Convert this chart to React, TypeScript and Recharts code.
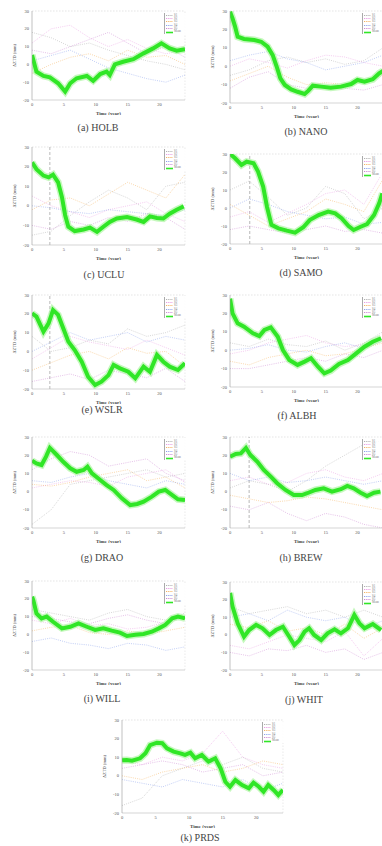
import React from 'react';
import { LineChart, Line, XAxis, YAxis, ReferenceLine } from 'recharts';

// ---------- shared axes / tick labels ----------
const X_TICKS = [0, 5, 10, 15, 20];
const Y_TICKS = [-20, -10, 0, 10, 20, 30];
const FAINT_T = [0, 3, 6, 9, 12, 15, 18, 21, 24];
const FAINT_NAMES = ['S1', 'S2', 'S3', 'S4', 'S5'];
const MAIN_NAME = 'Mean';

// ---------- (a) HOLB ----------
const holbT = [0, 0.7, 1.8, 2.8, 4.1, 5.2, 6, 7, 8.6, 9.6, 10.7, 11.7, 12.2, 13, 14.3, 15.9, 17.5, 19, 20.3, 21.6, 22.7, 24];
const holbZ = [5.3, -4.1, -6.5, -7.3, -10.6, -15.3, -10.6, -7.8, -6.5, -9.2, -5.4, -4.1, -6, 0, 1.5, 2.9, 6.2, 9, 11.8, 9, 7.7, 8.5];
const holbF1 = [18, 15, 10, 12, 8, 5, 2, 0, -3];
const holbF2 = [12, 20, 22, 15, 10, 14, 9, 6, 8];
const holbF3 = [-5, 0, 4, 6, 2, 8, 4, 5, 0];
const holbF4 = [2, 5, 8, 3, -2, -5, -8, -10, -6];
const holbF5 = [8, 6, 10, 14, 18, 12, 6, 10, 4];

// ---------- (b) NANO ----------
const nanoT = [0, 0.4, 0.8, 1.2, 2.2, 3.8, 4.9, 5.9, 6.7, 7.4, 7.9, 8.6, 9.6, 10.6, 11.7, 12.3, 13, 14.3, 15.8, 17.4, 19, 20, 21.1, 22.4, 23.4, 24];
const nanoZ = [29.6, 26, 21.5, 16, 14.8, 14.2, 13.3, 10.6, 6, -1.1, -6.6, -10.2, -12.6, -13.9, -15.1, -13.3, -10.6, -11.1, -11.7, -11.1, -9.7, -7.5, -8.4, -7.1, -3.9, -2.5];
const nanoF1 = [-5, -2, 3, 5, 2, 4, 1, 3, 10];
const nanoF2 = [0, 4, 2, -1, 3, 6, 5, 2, 0];
const nanoF3 = [-8, -4, 0, -6, -10, -9, -10, -8, -5];
const nanoF4 = [3, 6, 8, 4, 2, -2, 0, 2, 6];
const nanoF5 = [-12, -6, -3, -10, -12, -11, -12, -13, -10];

// ---------- (c) UCLU ----------
const ucluT = [0, 0.7, 1.8, 2.6, 3.3, 4.1, 4.7, 5.2, 5.7, 6.7, 8.1, 9.1, 10.2, 11.2, 12.2, 13.3, 14.9, 16.4, 17.5, 18.5, 19.6, 20.6, 21.6, 22.7, 23.8];
const ucluZ = [22.1, 18.7, 15.4, 14.5, 15.9, 12, 4.4, -4.8, -10.7, -12.9, -12.1, -11.1, -13.3, -10.7, -8.2, -6.5, -5.7, -7, -8.2, -5.4, -6.2, -6.5, -4, -2, -0.3];
const ucluF1 = [-15, -13, -5, 2, 8, 4, -2, 10, 12];
const ucluF2 = [5, 0, -3, -6, -2, 0, 2, -4, -8];
const ucluF3 = [-2, 3, 4, 0, 6, 12, 8, 4, 16];
const ucluF4 = [0, -1, -3, -4, -2, -3, -4, -5, -2];
const ucluF5 = [-10, -12, -8, -10, -6, -8, -4, -6, -12];

// ---------- (d) SAMO ----------
const samoT = [0, 0.8, 1.8, 2.6, 3.7, 4.4, 5.2, 5.8, 6.5, 7.6, 8.9, 10.2, 11.5, 12.5, 13.9, 15.4, 16.5, 17.5, 18.6, 19.4, 20.5, 21.5, 22.6, 23.4, 23.9];
const samoZ = [30, 27.6, 23.9, 25.7, 24.8, 20.2, 11.9, 0.7, -9.4, -11.3, -12.6, -13.7, -10.7, -6.7, -3.9, -2, -3, -5.7, -10, -12.2, -10.4, -8.9, -3.9, 2.6, 8.2];
const samoF1 = [10, 15, 6, -4, 0, 12, 8, -6, 0];
const samoF2 = [-5, -2, -8, -3, 2, 8, 10, 2, 20];
const samoF3 = [2, -4, -10, -6, -2, 5, 2, -2, 16];
const samoF4 = [0, 5, 2, -2, -4, -6, -5, -9, -8];
const samoF5 = [-12, -10, -12, -14, -12, -10, -13, -12, -14];

// ---------- (e) WSLR ----------
const wslrT = [0, 0.7, 1.8, 2.6, 3.3, 4.1, 4.9, 5.7, 6.7, 7.8, 8.8, 9.9, 10.9, 12, 12.8, 13.8, 15.1, 16.2, 17.5, 18.5, 19.6, 20.6, 21.6, 22.9, 24];
const wslrZ = [20.3, 18.5, 10.5, 14.9, 22, 19.4, 12.3, 5.2, 0.7, -5.5, -13.5, -17.9, -16.1, -12.6, -7.2, -9, -10.8, -14.3, -8.1, -10.8, -1.9, -5.5, -8.1, -9.9, -6.3];
const wslrF1 = [8, 0, 2, 6, 4, 12, 8, 10, 14];
const wslrF2 = [-4, 2, 8, 5, 3, 1, 6, 2, -2];
const wslrF3 = [-10, -6, -2, 0, -4, 2, -1, 0, -8];
const wslrF4 = [0, 5, 10, 6, 8, 10, 5, 8, 6];
const wslrF5 = [-16, -14, -12, -15, -10, -12, -14, -9, -16];

// ---------- (f) ALBH ----------
const albhT = [0, 0.4, 1.2, 2.2, 3.6, 4.6, 5.4, 6.4, 7.5, 8.3, 9.3, 10.6, 11.7, 12.7, 13.8, 14.8, 15.8, 17.1, 18.5, 19.8, 21.1, 22.4, 23.7];
const albhZ = [28, 20, 14.6, 12.8, 9.2, 7.7, 11, 12.4, 7.3, 0.1, -5.3, -8, -6.2, -4.4, -9, -12.6, -11.1, -7.5, -5.3, -1.7, 1.9, 4.6, 6.5];
const albhF1 = [4, 2, 6, 3, 2, 5, 0, 4, 10];
const albhF2 = [-2, 0, 4, 6, 8, 4, 2, 3, 6];
const albhF3 = [-6, -8, -4, -2, 0, -3, -2, 1, 4];
const albhF4 = [0, 1, 3, 0, -1, 2, 4, 1, 5];
const albhF5 = [-10, -10, -8, -6, -4, -6, -2, -4, 0];

// ---------- (g) DRAO ----------
const draoT = [0, 0.7, 1.5, 2.2, 2.8, 3.9, 4.9, 6, 7, 8.1, 8.7, 9.4, 10.7, 11.7, 12.8, 14.1, 15.4, 16.5, 17.5, 18.8, 19.9, 20.9, 22, 22.9, 24];
const draoZ = [17, 15.5, 14.6, 19.2, 24, 20.1, 16.4, 12.8, 10.9, 11.9, 13.7, 10, 6.4, 3.6, 0.9, -3.7, -7.4, -6.8, -5.5, -2.8, 0, 0.9, -1.9, -4.2, -4.6];
const draoF1 = [-18, -10, 4, 6, 8, 10, 12, 8, 10];
const draoF2 = [2, 4, 6, 5, 3, 8, 10, 12, 5];
const draoF3 = [4, 3, 5, 8, 10, 12, 6, 8, 2];
const draoF4 = [6, 5, 8, 10, 6, 4, 2, 6, 4];
const draoF5 = [12, 18, 22, 20, 14, 16, 18, 10, 6];

// ---------- (h) BREW ----------
const brewT = [0, 0.9, 1.7, 2.5, 3.2, 4.3, 5.3, 6.4, 7.4, 8.7, 10, 11.3, 12.1, 13.4, 14.7, 16, 17.4, 18.4, 19.4, 20.5, 21.5, 22.6, 23.6];
const brewZ = [19.2, 20.7, 21, 24, 20.1, 16.4, 11.9, 8.2, 4.6, 0.9, -1.9, -1.9, -0.9, 0.9, 1.8, 0, 1.3, 3.1, 1.8, -0.6, -2.4, -0.6, 0];
const brewF1 = [2, 6, 4, 0, 6, 14, 20, 26, 28];
const brewF2 = [6, 8, 4, 5, 10, 12, 8, 6, 10];
const brewF3 = [-2, -4, -6, -5, -3, -4, -6, -8, -10];
const brewF4 = [10, 6, 8, 5, 6, 8, 6, 4, 6];
const brewF5 = [-8, -10, -6, -12, -16, -12, -14, -18, -20];

// ---------- (i) WILL ----------
const willT = [0, 0.2, 0.7, 1.5, 2.3, 3.3, 4.7, 6, 7.3, 8.6, 9.9, 11.2, 12.5, 13.8, 14.9, 16.2, 17.5, 18.8, 19.9, 20.9, 22, 22.9, 24];
const willZ = [21.2, 19.3, 11.8, 9, 10, 7.1, 3.4, 4.3, 6.2, 4.3, 2.5, 3.4, 2.1, 1, -0.9, -0.2, 0.2, 1.5, 3.4, 5.3, 9, 10, 9];
const willF1 = [14, 12, 10, 8, 12, 14, 10, 8, 12];
const willF2 = [8, 6, 9, 5, 6, 3, 4, 7, 10];
const willF3 = [2, 4, 5, 1, 0, 2, 0, 2, 4];
const willF4 = [-4, -2, -5, -6, -8, -5, -6, -9, -7];
const willF5 = [10, 9, 7, 6, 9, 11, 8, 6, 10];

// ---------- (j) WHIT ----------
const whitT = [0, 0.4, 1.2, 2.2, 3, 4.1, 5.1, 6.2, 7.2, 8.3, 9.3, 10.1, 10.9, 11.7, 12.4, 13.2, 14.3, 15.3, 16.4, 17.4, 18.5, 19.5, 20.3, 21.1, 22.4, 23.7];
const whitZ = [23.8, 16, 6.5, -1.1, 2.7, 5.6, 3.7, -0.1, 2.7, 4.6, -1.1, -5.8, -3, 1.8, 3.7, -0.1, -3, 0.8, 3.1, 0.8, 3.7, 11.3, 6.5, 3.7, 6.1, 2.7];
const whitF1 = [16, 12, 14, 16, 12, 14, 10, 14, 10];
const whitF2 = [-6, -8, -4, 0, -2, -4, 2, -12, -2];
const whitF3 = [6, 4, 8, 2, 4, 0, 6, -2, 4];
const whitF4 = [10, 12, 8, 14, 10, 8, 10, 4, 8];
const whitF5 = [-10, -12, -8, -9, -6, -10, -8, -14, -10];

// ---------- (k) PRDS ----------
const prdsT = [0, 0.7, 1.5, 2.7, 3.5, 4.2, 5.2, 6, 6.7, 7.7, 8.7, 9.4, 10.2, 10.9, 11.9, 12.9, 13.9, 14.7, 15.4, 16.1, 16.9, 17.9, 18.9, 19.6, 20.4, 21.1, 21.8, 22.6, 23.3, 24];
const prdsZ = [8.3, 8.5, 8.1, 9.4, 12.1, 16.5, 17.8, 17.5, 14.8, 13, 12.1, 11.2, 12.4, 9.4, 11.2, 7.6, 9.4, 4, -3.2, -5.9, -2.3, -5, -6.7, -3.7, -5.9, -8.5, -5, -7.6, -10.3, -7.6];
const prdsF1 = [-16, -12, 0, 4, 8, 6, 10, 4, 2];
const prdsF2 = [8, 6, 10, 8, 12, 24, 10, 6, 4];
const prdsF3 = [0, -2, 2, 4, 6, 2, 4, 8, 6];
const prdsF4 = [-2, -4, -6, -2, -4, -6, -2, -8, -4];
const prdsF5 = [4, 6, 8, 6, 2, 4, 6, 0, 2];

// ---------- styling (kept apart from data) ----------
const FAINT_COLORS = ['#9c9c9c', '#e583dc', '#f2a03a', '#6d8ae6', '#c06ac8'];
const GREEN = '#30e626';
const GREEN_HALO = '#aef5a2';
const SERIF = '"Liberation Serif", "DejaVu Serif", serif';

type Box = { l: number; r: number; t: number; b: number };
type PanelDef = {
  caption: string;
  t: number[];
  z: number[];
  faint: number[][];
  refX?: number;
  box: Box;
  cap: { x: number; y: number };
};

const PANELS: PanelDef[] = [
  { caption: '(a) HOLB', t: holbT, z: holbZ, faint: [holbF1, holbF2, holbF3, holbF4, holbF5], box: { l: 32, r: 185, t: 11, b: 100 }, cap: { x: 98, y: 127 } },
  { caption: '(b) NANO', t: nanoT, z: nanoZ, faint: [nanoF1, nanoF2, nanoF3, nanoF4, nanoF5], box: { l: 230, r: 383, t: 11, b: 103 }, cap: { x: 306, y: 131 } },
  { caption: '(c) UCLU', t: ucluT, z: ucluZ, faint: [ucluF1, ucluF2, ucluF3, ucluF4, ucluF5], refX: 2.8, box: { l: 32, r: 185, t: 147, b: 245 }, cap: { x: 104, y: 274 } },
  { caption: '(d) SAMO', t: samoT, z: samoZ, faint: [samoF1, samoF2, samoF3, samoF4, samoF5], refX: 3.1, box: { l: 230, r: 383, t: 154, b: 244 }, cap: { x: 301, y: 272 } },
  { caption: '(e) WSLR', t: wslrT, z: wslrZ, faint: [wslrF1, wslrF2, wslrF3, wslrF4, wslrF5], refX: 2.8, box: { l: 32, r: 185, t: 295, b: 389 }, cap: { x: 102, y: 409 } },
  { caption: '(f) ALBH', t: albhT, z: albhZ, faint: [albhF1, albhF2, albhF3, albhF4, albhF5], box: { l: 230, r: 383, t: 295, b: 387 }, cap: { x: 297, y: 415 } },
  { caption: '(g) DRAO', t: draoT, z: draoZ, faint: [draoF1, draoF2, draoF3, draoF4, draoF5], box: { l: 32, r: 185, t: 437, b: 528 }, cap: { x: 102, y: 557 } },
  { caption: '(h) BREW', t: brewT, z: brewZ, faint: [brewF1, brewF2, brewF3, brewF4, brewF5], refX: 3.0, box: { l: 230, r: 383, t: 437, b: 528 }, cap: { x: 301, y: 557 } },
  { caption: '(i) WILL', t: willT, z: willZ, faint: [willF1, willF2, willF3, willF4, willF5], box: { l: 32, r: 185, t: 581, b: 670 }, cap: { x: 102, y: 698 } },
  { caption: '(j) WHIT', t: whitT, z: whitZ, faint: [whitF1, whitF2, whitF3, whitF4, whitF5], box: { l: 230, r: 383, t: 582, b: 670 }, cap: { x: 304, y: 699 } },
  { caption: '(k) PRDS', t: prdsT, z: prdsZ, faint: [prdsF1, prdsF2, prdsF3, prdsF4, prdsF5], box: { l: 122, r: 283, t: 720, b: 813 }, cap: { x: 200, y: 837 } },
];

const YW = 22;
const XH = 15;
const MT = 3;
const MR = 2;

const tickStyle = { fontSize: 4.5, fill: '#555', fontFamily: SERIF };

function MiniLegend({ right, top }: { right: number; top: number }) {
  const entries = [...FAINT_NAMES.map((n, i) => ({ n, c: FAINT_COLORS[i], w: 0.8 })), { n: MAIN_NAME, c: GREEN, w: 1.6 }];
  return (
    <div
      style={{
        position: 'absolute',
        left: right - 21,
        top: top + 2,
        width: 20,
        borderLeft: '0.6px solid #aaa',
        background: 'rgba(255,255,255,0.85)',
        padding: '0.5px 1px',
        lineHeight: '3.4px',
      }}
    >
      {entries.map((e) => (
        <div key={e.n} style={{ display: 'flex', alignItems: 'center', height: 3.4 }}>
          <svg width={7} height={3} style={{ display: 'block' }}>
            <line x1={0} y1={1.5} x2={7} y2={1.5} stroke={e.c} strokeWidth={e.w} strokeDasharray={e.w < 1 ? '1 0.8' : undefined} />
          </svg>
          <span style={{ fontSize: 3, color: '#777', fontFamily: SERIF, marginLeft: 1, whiteSpace: 'nowrap' }}>{e.n}</span>
        </div>
      ))}
    </div>
  );
}

function Panel({ p }: { p: PanelDef }) {
  const { box } = p;
  const width = box.r - box.l + YW + MR;
  const height = box.b - box.t + MT + XH;
  const main = p.t.map((x, i) => ({ t: x, v: p.z[i] }));
  const faintData = p.faint.map((arr) => FAINT_T.map((x, i) => ({ t: x, v: arr[i] })));
  return (
    <>
      <div style={{ position: 'absolute', left: box.l - YW, top: box.t - MT }}>
        <LineChart width={width} height={height} margin={{ top: MT, right: MR, left: 0, bottom: 0 }}>
          <XAxis
            dataKey="t"
            type="number"
            domain={[0, 24]}
            ticks={X_TICKS}
            height={XH}
            allowDataOverflow
            tick={tickStyle}
            tickLine={false}
            tickSize={2}
            tickMargin={1}
            axisLine={{ stroke: '#bbb', strokeWidth: 0.6 }}
            label={{ value: 'Time (year)', position: 'insideBottom', offset: 0, style: { fontSize: 5, fill: '#444', fontFamily: SERIF, fontWeight: 'bold' } }}
          />
          <YAxis
            dataKey="v"
            type="number"
            domain={[-20, 30]}
            ticks={Y_TICKS}
            width={YW}
            allowDataOverflow
            tick={tickStyle}
            tickLine={false}
            tickSize={2}
            tickMargin={1}
            axisLine={{ stroke: '#999', strokeWidth: 0.6 }}
            label={{ value: 'ΔZTD (mm)', angle: -90, position: 'insideLeft', offset: 4, style: { fontSize: 4.5, fill: '#555', fontFamily: SERIF, textAnchor: 'middle' } }}
          />
          <ReferenceLine y={30} stroke="#d4d4d4" strokeWidth={0.6} strokeDasharray="1.5 1.5" />
          <ReferenceLine x={24} stroke="#dcdcdc" strokeWidth={0.6} strokeDasharray="1.5 1.5" />
          {p.refX !== undefined && (
            <ReferenceLine x={p.refX} stroke="#888" strokeWidth={0.6} strokeDasharray="3 2" />
          )}
          {faintData.map((d, k) => (
            <Line
              key={'f' + k}
              data={d}
              dataKey="v"
              type="linear"
              stroke={FAINT_COLORS[k]}
              strokeWidth={0.7}
              strokeOpacity={0.6}
              strokeDasharray="1 1.2"
              dot={false}
              activeDot={false}
              isAnimationActive={false}
            />
          ))}
          <Line data={main} dataKey="v" type="linear" stroke={GREEN_HALO} strokeWidth={7} strokeOpacity={0.7} dot={false} activeDot={false} isAnimationActive={false} />
          <Line data={main} dataKey="v" type="linear" stroke={GREEN} strokeWidth={4} dot={false} activeDot={false} isAnimationActive={false} />
        </LineChart>
      </div>
      <MiniLegend right={box.r} top={box.t} />
      <div
        style={{
          position: 'absolute',
          left: p.cap.x,
          top: p.cap.y,
          transform: 'translate(-50%, -50%)',
          fontSize: 10,
          fontFamily: SERIF,
          color: '#444',
          whiteSpace: 'nowrap',
        }}
      >
        {p.caption}
      </div>
    </>
  );
}

export default function App() {
  return (
    <div
      style={{
        position: 'fixed',
        left: 0,
        top: 0,
        width: 382,
        height: 846,
        overflow: 'hidden',
        background: '#fff',
      }}
    >
      {PANELS.map((p) => (
        <Panel key={p.caption} p={p} />
      ))}
    </div>
  );
}
